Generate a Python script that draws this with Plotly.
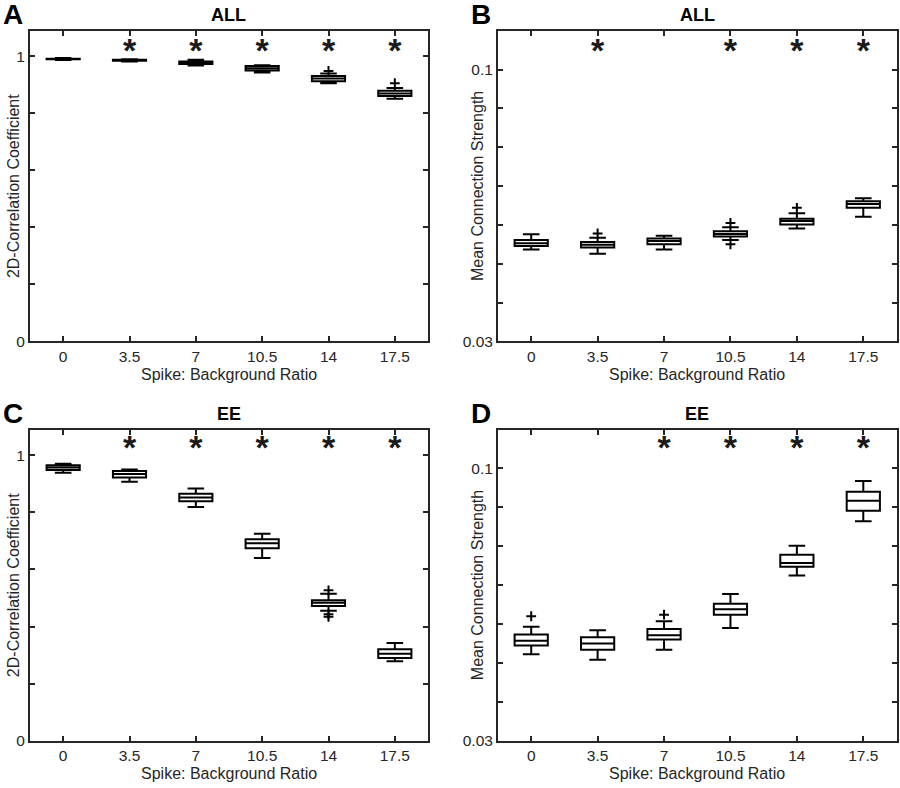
import plotly.graph_objects as go

# ---------------- data ----------------
ratios = ["0", "3.5", "7", "10.5", "14", "17.5"]

# Panel A: ALL, 2D-correlation coefficient
a_low = [0.987, 0.982, 0.968, 0.943, 0.906, 0.851]
a_q1 = [0.990, 0.985, 0.973, 0.950, 0.913, 0.861]
a_med = [0.991, 0.987, 0.978, 0.958, 0.922, 0.870]
a_q3 = [0.992, 0.988, 0.982, 0.966, 0.931, 0.879]
a_high = [0.994, 0.990, 0.988, 0.969, 0.940, 0.889]
a_out_x = ["14", "17.5"]
a_out_y = [0.949, 0.906]
a_sig = [False, True, True, True, True, True]

# Panel B: ALL, mean connection strength
b_low = [0.0537, 0.0526, 0.0537, 0.0561, 0.0591, 0.0621]
b_q1 = [0.0546, 0.0542, 0.0550, 0.0570, 0.0601, 0.0644]
b_med = [0.0553, 0.0549, 0.0559, 0.0577, 0.0610, 0.0654]
b_q3 = [0.0561, 0.0556, 0.0565, 0.0584, 0.0616, 0.0661]
b_high = [0.0576, 0.0567, 0.0572, 0.0594, 0.0630, 0.0669]
b_out_x = ["3.5", "10.5", "10.5", "14"]
b_out_y = [0.0578, 0.0605, 0.0550, 0.0644]
b_sig = [False, True, False, True, True, True]

# Panel C: EE, 2D-correlation coefficient
c_low = [0.939, 0.907, 0.819, 0.640, 0.455, 0.278]
c_q1 = [0.948, 0.922, 0.839, 0.674, 0.472, 0.290]
c_med = [0.957, 0.934, 0.852, 0.692, 0.483, 0.305]
c_q3 = [0.965, 0.945, 0.865, 0.706, 0.492, 0.320]
c_high = [0.970, 0.950, 0.884, 0.725, 0.515, 0.342]
c_out_x = ["14", "14", "14"]
c_out_y = [0.527, 0.443, 0.434]
c_sig = [False, True, True, True, True, True]

# Panel D: EE, mean connection strength
d_low = [0.0522, 0.0508, 0.0534, 0.0590, 0.0725, 0.0864]
d_q1 = [0.0545, 0.0534, 0.0560, 0.0624, 0.0747, 0.0891]
d_med = [0.0557, 0.0550, 0.0571, 0.0638, 0.0757, 0.0917]
d_q3 = [0.0573, 0.0566, 0.0587, 0.0652, 0.0778, 0.0940]
d_high = [0.0593, 0.0584, 0.0607, 0.0677, 0.0801, 0.0968]
d_out_x = ["0", "7"]
d_out_y = [0.0620, 0.0624]
d_sig = [False, False, True, True, True, True]

corr_ticks = [0, 0.2, 0.4, 0.6, 0.8, 1.0]
corr_ticktext = ["0", "", "", "", "", "1"]
strength_ticks = [0.03, 0.04, 0.05, 0.06, 0.07, 0.08, 0.09, 0.1]
strength_ticktext = ["0.03", "", "", "", "", "", "", "0.1"]

# ---------------- figure ----------------
W, H = 900, 788
FONT = "Liberation Sans, Arial, sans-serif"
TXT = "#262626"

fig = go.Figure()

panels = [
    dict(name="A", title="ALL", xa="x", ya="y", low=a_low, q1=a_q1, med=a_med, q3=a_q3, high=a_high,
         ox=a_out_x, oy=a_out_y, sig=a_sig, star_y=1.010),
    dict(name="B", title="ALL", xa="x2", ya="y2", low=b_low, q1=b_q1, med=b_med, q3=b_q3, high=b_high,
         ox=b_out_x, oy=b_out_y, sig=b_sig, star_y=0.1040),
    dict(name="C", title="EE", xa="x3", ya="y3", low=c_low, q1=c_q1, med=c_med, q3=c_q3, high=c_high,
         ox=c_out_x, oy=c_out_y, sig=c_sig, star_y=1.018),
    dict(name="D", title="EE", xa="x4", ya="y4", low=d_low, q1=d_q1, med=d_med, q3=d_q3, high=d_high,
         ox=d_out_x, oy=d_out_y, sig=d_sig, star_y=0.1045),
]

for p in panels:
    fig.add_trace(go.Box(
        x=ratios, q1=p["q1"], median=p["med"], q3=p["q3"],
        lowerfence=p["low"], upperfence=p["high"],
        xaxis=p["xa"], yaxis=p["ya"],
        fillcolor="white", line=dict(color="black", width=2),
        width=0.5, whiskerwidth=0.5, boxpoints=False, showlegend=False,
    ))
    fig.add_trace(go.Scatter(
        x=p["ox"], y=p["oy"], mode="markers", xaxis=p["xa"], yaxis=p["ya"],
        marker=dict(symbol="cross-thin-open", size=7, color="black",
                    line=dict(color="black", width=2)),
        showlegend=False,
    ))
    sx = [r for r, s in zip(ratios, p["sig"]) if s]
    fig.add_trace(go.Scatter(
        x=sx, y=[p["star_y"]] * len(sx), mode="text", text=["<b>*</b>"] * len(sx),
        textposition="middle center", xaxis=p["xa"], yaxis=p["ya"],
        textfont=dict(family=FONT, size=34, color="#1a1a1a"), showlegend=False,
    ))

def px_x(v):
    return v / W

def px_y(v):
    return 1 - v / H

dom = {
    "A": ([30, 428], [31, 345]),
    "B": ([498, 896.5], [31, 345]),
    "C": ([30, 428], [434, 748.3]),
    "D": ([498, 896.5], [434, 748.3]),
}

axis_common = dict(showline=True, linecolor=TXT, linewidth=2, mirror="ticks",
                   ticks="inside", ticklen=5, tickwidth=2, tickcolor=TXT,
                   showgrid=False, zeroline=False,
                   tickfont=dict(family=FONT, size=15.5, color=TXT))

layout = dict(width=W, height=H, margin=dict(l=0, r=0, t=0, b=0),
              paper_bgcolor="white", plot_bgcolor="white",
              font=dict(family=FONT, color=TXT))

annotations = []
for i, p in enumerate(panels):
    sfx = "" if i == 0 else str(i + 1)
    (x0, x1), (y0, y1) = dom[p["name"]]
    corr = p["name"] in ("A", "C")
    layout["xaxis" + sfx] = dict(axis_common, domain=[px_x(x0), px_x(x1)],
                                 anchor="y" + sfx, type="category",
                                 categoryorder="array", categoryarray=ratios,
                                 range=[-0.5, 5.5])
    layout["yaxis" + sfx] = dict(axis_common, domain=[px_y(y1), px_y(y0)],
                                 anchor="x" + sfx,
                                 range=[0, 1.09] if corr else [0.03, 0.11],
                                 tickvals=corr_ticks if corr else strength_ticks,
                                 ticktext=corr_ticktext if corr else strength_ticktext)
    cx = (x0 + x1) / 2
    cy = (y0 + y1) / 2
    # panel title
    annotations.append(dict(text="<b>%s</b>" % p["title"], x=px_x(cx), y=px_y(y0 - 16),
                            xref="paper", yref="paper", showarrow=False,
                            font=dict(family=FONT, size=18, color="black"),
                            xanchor="center", yanchor="middle"))
    # panel letter
    annotations.append(dict(text="<b>%s</b>" % p["name"], x=px_x(x0 - 17), y=px_y(y0 - 16),
                            xref="paper", yref="paper", showarrow=False,
                            font=dict(family=FONT, size=28, color="black"),
                            xanchor="center", yanchor="middle"))
    # x axis title
    annotations.append(dict(text="Spike: Background Ratio", x=px_x(cx), y=px_y(y1 + 33),
                            xref="paper", yref="paper", showarrow=False,
                            font=dict(family=FONT, size=16, color=TXT),
                            xanchor="center", yanchor="middle"))
    # y axis title
    annotations.append(dict(text="2D-Correlation Coefficient" if corr else "Mean Connection Strength",
                            x=px_x(x0 - (17 if corr else 21)), y=px_y(cy),
                            xref="paper", yref="paper", showarrow=False, textangle=-90,
                            font=dict(family=FONT, size=16, color=TXT),
                            xanchor="center", yanchor="middle"))

layout["annotations"] = annotations
fig.update_layout(**layout)
fig.write_html("out.html", config={"displayModeBar": False},
               post_script="document.body.style.margin='0px';")
